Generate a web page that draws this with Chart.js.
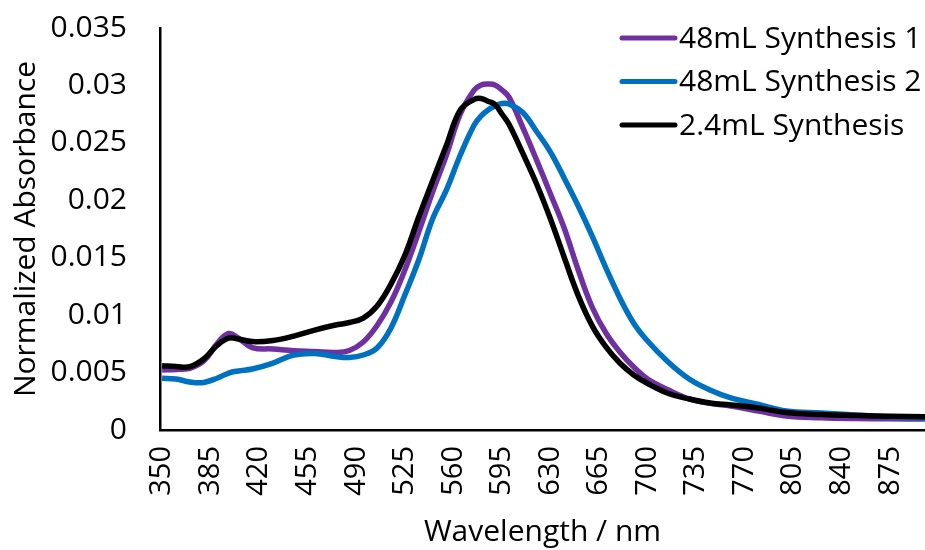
<!DOCTYPE html>
<html>
<head>
<meta charset="utf-8">
<title>Normalized Absorbance</title>
<script src="https://cdn.jsdelivr.net/npm/chart.js@4.4.0/dist/chart.umd.min.js"></script>
<style>
  html, body { margin: 0; padding: 0; background: #fff; }
  #wrap { width: 925px; height: 550px; }
</style>
</head>
<body>
<div id="wrap"><canvas id="chart" width="925" height="550"></canvas></div>
<script>
'use strict';

const FONT = '"Open Sans", "Noto Sans", sans-serif';

// wavelength (nm) shared by all three spectra
const wavelengths = [350, 360, 370, 380, 390, 398, 405, 415, 430, 445, 460, 475, 485, 495, 505, 515,
  525, 535, 545, 555, 565, 575, 580, 585, 590, 595, 600, 610, 620, 630, 640, 650, 660, 670, 680,
  690, 700, 715, 730, 745, 760, 780, 800, 825, 850, 875, 900];

const synth1 = [0.00522, 0.00527, 0.00537, 0.0060, 0.00757, 0.0084, 0.0080, 0.00718, 0.00705, 0.0069,
  0.00683, 0.00675, 0.00692, 0.00766, 0.0091, 0.01114, 0.01393, 0.01724, 0.02072, 0.02394, 0.02751,
  0.0296, 0.03004, 0.03012, 0.03004, 0.0296, 0.029, 0.02635, 0.0235, 0.02055, 0.01754, 0.01393,
  0.01071, 0.00844, 0.00679, 0.00548, 0.00444, 0.00348, 0.0027, 0.00232, 0.00209, 0.00165, 0.00122,
  0.00107, 0.0010, 0.00097, 0.00096];

const synth2 = [0.0045, 0.00444, 0.00418, 0.00414, 0.00453, 0.00496, 0.00514, 0.00531, 0.00583, 0.00653,
  0.00666, 0.0064, 0.00631, 0.00653, 0.00714, 0.00888, 0.01175, 0.0148, 0.01837, 0.0209, 0.02394,
  0.02655, 0.02734, 0.02786, 0.02821, 0.02842, 0.02838, 0.02764, 0.02599, 0.0242, 0.0219, 0.0195,
  0.0169, 0.0141, 0.0115, 0.0093, 0.00775, 0.0059, 0.00444, 0.00348, 0.00279, 0.00222, 0.00165,
  0.00148, 0.00131, 0.00113, 0.00102];

const synthSmall = [0.0056, 0.00553, 0.00551, 0.00618, 0.0074, 0.0080, 0.00792, 0.0077, 0.0078, 0.00818,
  0.0087, 0.00914, 0.00936, 0.00975, 0.0108, 0.0127, 0.0152, 0.01854, 0.02168, 0.0248, 0.02786,
  0.02879, 0.02887, 0.02862, 0.02834, 0.02751, 0.02664, 0.0241, 0.02142, 0.01837, 0.0150, 0.0117,
  0.00909, 0.00723, 0.00583, 0.00479, 0.00405, 0.00318, 0.0027, 0.00235, 0.00218, 0.00192, 0.00152,
  0.00135, 0.00126, 0.00119, 0.00116];

const seriesNames = ['48mL Synthesis 1', '48mL Synthesis 2', '2.4mL Synthesis'];
const seriesColors = ['#7030A0', '#0070C0', '#000000'];
const xTicks = [350, 385, 420, 455, 490, 525, 560, 595, 630, 665, 700, 735, 770, 805, 840, 875];
const yTicks = [0, 0.005, 0.01, 0.015, 0.02, 0.025, 0.03, 0.035];

function pairs(ys) {
  return wavelengths.map((x, i) => ({ x, y: ys[i] }));
}

// legend drawn inside the plot, top right
const insideLegend = {
  id: 'insideLegend',
  afterDraw(chart) {
    const ctx = chart.ctx;
    ctx.save();
    ctx.font = '30px ' + FONT;
    ctx.textBaseline = 'middle';
    ctx.lineCap = 'round';
    seriesNames.forEach((name, i) => {
      const y = 38 + i * 43.5;
      ctx.strokeStyle = seriesColors[i];
      ctx.lineWidth = 5;
      ctx.beginPath();
      ctx.moveTo(622, y);
      ctx.lineTo(675, y);
      ctx.stroke();
      ctx.fillStyle = '#000';
      ctx.fillText(name, 679, y + 1);
    });
    ctx.restore();
  },
};

const sets = [synth1, synth2, synthSmall].map((ys, i) => ({
  label: seriesNames[i],
  data: pairs(ys),
  borderColor: seriesColors[i],
  backgroundColor: seriesColors[i],
  borderWidth: 5.5,
  pointRadius: 0,
  tension: 0.4,
  fill: false,
  order: [2, 1, 0][i],
}));

new Chart(document.getElementById('chart'), {
  type: 'line',
  data: { datasets: sets },
  options: {
    responsive: false,
    animation: false,
    events: [],
    layout: { padding: { top: 28, right: 0, left: 0, bottom: 0 } },
    plugins: { legend: { display: false }, tooltip: { enabled: false } },
    scales: {
      x: {
        type: 'linear',
        min: 348.5,
        max: 900,
        afterBuildTicks: axis => { axis.ticks = xTicks.map(v => ({ value: v })); },
        afterFit: axis => {
          axis.height = 120;
          axis.paddingLeft = 0;
          axis.paddingRight = 0;
        },
        grid: { display: false, drawTicks: false },
        border: { display: true, color: '#000', width: 2.5 },
        ticks: {
          autoSkip: false,
          minRotation: 90,
          maxRotation: 90,
          padding: 16,
          color: '#000',
          font: { family: FONT, size: 29 },
        },
        title: {
          display: true,
          text: 'Wavelength / nm',
          color: '#000',
          font: { family: FONT, size: 30 },
          padding: { top: 0, bottom: 0 },
        },
      },
      y: {
        min: 0,
        max: 0.035,
        afterBuildTicks: axis => { axis.ticks = yTicks.map(v => ({ value: v })); },
        afterFit: axis => {
          axis.width = 160;
          axis.paddingTop = 0;
          axis.paddingBottom = 0;
        },
        grid: { display: false, drawTicks: false },
        border: { display: true, color: '#000', width: 2.5 },
        ticks: {
          padding: 33,
          color: '#000',
          font: { family: FONT, size: 30 },
          callback: v => String(+v.toFixed(3)),
        },
        title: {
          display: true,
          text: 'Normalized Absorbance',
          color: '#000',
          font: { family: FONT, size: 30 },
          padding: { top: 8, bottom: 0 },
        },
      },
    },
  },
  plugins: [insideLegend],
});
</script>
</body>
</html>
